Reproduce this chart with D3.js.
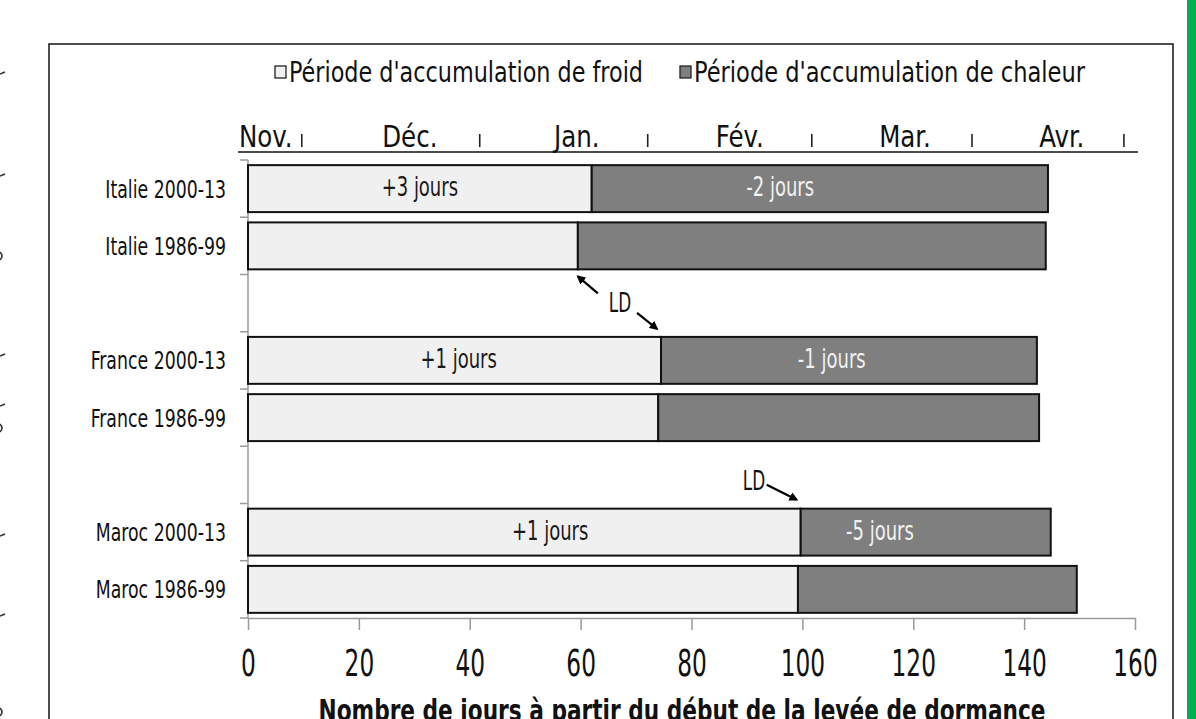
<!DOCTYPE html>
<html>
<head>
<meta charset="utf-8">
<script src="https://cdnjs.cloudflare.com/ajax/libs/d3/7.8.5/d3.min.js"></script>
<style>
	html, body { margin: 0; padding: 0; background: #fff; overflow: hidden; }
	svg text { font-family: 'Liberation Sans Narrow', 'DejaVu Sans Condensed', 'DejaVu Sans', sans-serif; fill: #111; }
	.axis path, .axis line { stroke: #9a9a9a; stroke-width: 1.5; }
	.axis text { font-size: 38px; }
	.cat_labels { font-size: 25px; text-anchor: end; }
	.bar_labels { font-size: 27px; text-anchor: middle; }
</style>
</head>
<body>
<div id="chart"></div>
<script>

// rows of the chart (gap rows are left empty)
var rows = ["Italie 2000-13", "Italie 1986-99", "gap1", "France 2000-13", "France 1986-99", "gap2", "Maroc 2000-13", "Maroc 1986-99"]

var periods = ["Italie 2000-13", "Italie 1986-99", "France 2000-13", "France 1986-99", "Maroc 2000-13", "Maroc 1986-99"]

var series = ["Période d'accumulation de froid", "Période d'accumulation de chaleur"]

// days from start of dormancy release
var coldDays = [62, 59.5, 74.5, 74, 99.7, 99.2]

var totalDays = [144.3, 143.9, 142.3, 142.7, 144.8, 149.5]

var coldLabels = ["+3 jours", "", "+1 jours", "", "+1 jours", ""]

var warmLabels = ["-2 jours", "", "-1 jours", "", "-5 jours", ""]

// where the change labels sit, in days
var coldLabelDay = [31, 0, 38, 0, 54.5, 0]

var warmLabelDay = [96, 0, 105.3, 0, 114, 0]

var dayTicks = [0, 20, 40, 60, 80, 100, 120, 140, 160]

var months = ["Nov.", "Déc.", "Jan.", "Fév.", "Mar.", "Avr."]

var monthLabelDay = [3.2, 29.2, 59.3, 88.7, 118.5, 146.8]

var monthEndDay = [9.7, 41.8, 72.1, 101.7, 130.6, 158]

// LD arrows point at the cold/warm boundary of these periods
var ldTargets = ["Italie 1986-99", "France 2000-13", "Maroc 2000-13"]

var width = 1196

var height = 719

// squeeze a text horizontally, the source font is a condensed one
function condense(sel, ratio) {
	sel.each(function() {
		var w = this.getComputedTextLength()
		if (w > 0) {
			d3.select(this)
				.attr("textLength", w * ratio)
				.attr("lengthAdjust", "spacingAndGlyphs")
		}
	})
}

var svg = d3.select("#chart")
	.append("svg")
	.attr("width", width)
	.attr("height", height)

svg.append("defs").append("marker")
	.attr("id", "head")
	.attr("viewBox", "0 0 10 10")
	.attr("refX", 8)
	.attr("refY", 5)
	.attr("markerWidth", 9)
	.attr("markerHeight", 9)
	.attr("orient", "auto")
	.attr("markerUnits", "userSpaceOnUse")
	.append("path")
	.attr("d", "M0,0 L10,5 L0,10 z")
	.attr("fill", "#000")

// bits of the neighbouring page, cut at the left edge
var edgeY = [74, 176, 256, 356, 406, 428, 536, 616, 712]

svg.selectAll(".edge")
	.data(edgeY)
	.enter()
	.append("path")
	.attr("d", function(d, i) { return i % 3 == 2 ? "M0," + (d - 4) + " q4,4 0,8" : "M0," + d + " l5,-2" })
	.attr("fill", "none")
	.attr("stroke", "#333")
	.attr("stroke-width", 1.6)

// green strip and frame
svg.append("rect")
	.attr("x", 1187)
	.attr("y", 0)
	.attr("width", 9)
	.attr("height", height)
	.attr("fill", "#00b050")

svg.append("rect")
	.attr("x", 49)
	.attr("y", 44)
	.attr("width", 1124)
	.attr("height", 700)
	.attr("fill", "none")
	.attr("stroke", "#222")
	.attr("stroke-width", 1.6)

var xScale = d3.scaleLinear()
	.domain([0, 160])
	.range([248, 1135])

var yScale = d3.scaleBand()
	.domain(rows)
	.range([160, 618])
	.paddingInner(0.18)
	.paddingOuter(0.09)

var step = yScale.step()

// y axis: line with ticks at row boundaries
var g = svg.append("g").attr("class", "axis")

g.append("line")
	.attr("x1", xScale(0))
	.attr("x2", xScale(0))
	.attr("y1", 160)
	.attr("y2", 618)

for (var i = 0; i <= rows.length; i++) {

	g.append("line")
		.attr("x1", xScale(0) - 8)
		.attr("x2", xScale(0))
		.attr("y1", 160 + i * step)
		.attr("y2", 160 + i * step)

}

svg.selectAll(".cat_labels")
	.data(periods)
	.enter()
	.append("text")
	.attr("class", "cat_labels")
	.attr("x", 226)
	.attr("y", function(d) { return yScale(d) + yScale.bandwidth() / 2 + 9 })
	.text(function(d) { return d })
	.call(condense, 0.77)

var xAxis = d3.axisBottom(xScale)
	.tickValues(dayTicks)
	.tickSize(12)
	.tickSizeOuter(0)
	.tickPadding(14)

svg.append("g")
	.attr("class", "axis")
	.attr("transform", "translate(0,618)")
	.call(xAxis)
	.selectAll("text")
	.attr("dy", "0.85em")
	.call(condense, 0.68)

svg.select(".axis path.domain").attr("stroke", "#9a9a9a")

// bars
var bars = svg.append("g")

bars.selectAll(".cold")
	.data(periods)
	.enter()
	.append("rect")
	.attr("x", xScale(0))
	.attr("y", function(d) { return yScale(d) })
	.attr("width", function(d, i) { return xScale(coldDays[i]) - xScale(0) })
	.attr("height", yScale.bandwidth())
	.attr("fill", "#f0f0f0")
	.attr("stroke", "#111")
	.attr("stroke-width", 2)

bars.selectAll(".warm")
	.data(periods)
	.enter()
	.append("rect")
	.attr("x", function(d, i) { return xScale(coldDays[i]) })
	.attr("y", function(d) { return yScale(d) })
	.attr("width", function(d, i) { return xScale(totalDays[i]) - xScale(coldDays[i]) })
	.attr("height", yScale.bandwidth())
	.attr("fill", "#7f7f7f")
	.attr("stroke", "#111")
	.attr("stroke-width", 2)

bars.selectAll(".cold_text")
	.data(periods)
	.enter()
	.append("text")
	.attr("class", "bar_labels")
	.attr("x", function(d, i) { return xScale(coldLabelDay[i]) })
	.attr("y", function(d) { return yScale(d) + 31 })
	.style("fill", "#1a1a1a")
	.text(function(d, i) { return coldLabels[i] })
	.call(condense, 0.74)

bars.selectAll(".warm_text")
	.data(periods)
	.enter()
	.append("text")
	.attr("class", "bar_labels")
	.attr("x", function(d, i) { return xScale(warmLabelDay[i]) })
	.attr("y", function(d) { return yScale(d) + 31 })
	.style("fill", "#f2f2f2")
	.text(function(d, i) { return warmLabels[i] })
	.call(condense, 0.74)

// month axis on top
svg.append("line")
	.attr("x1", 238)
	.attr("x2", 1138)
	.attr("y1", 152)
	.attr("y2", 152)
	.attr("stroke", "#111")
	.attr("stroke-width", 1.6)

svg.selectAll(".month")
	.data(months)
	.enter()
	.append("text")
	.attr("x", function(d, i) { return xScale(monthLabelDay[i]) })
	.attr("y", 147)
	.attr("text-anchor", "middle")
	.style("font-size", "31px")
	.text(function(d) { return d })
	.call(condense, 0.88)

svg.selectAll(".month_end")
	.data(monthEndDay)
	.enter()
	.append("line")
	.attr("x1", function(d) { return xScale(d) })
	.attr("x2", function(d) { return xScale(d) })
	.attr("y1", 134)
	.attr("y2", 147)
	.attr("stroke", "#222")
	.attr("stroke-width", 1.6)

// legend
var legendX = [275, 680]

var legendW = [354, 391]

series.forEach(function(s, i) {

	svg.append("rect")
		.attr("x", legendX[i])
		.attr("y", 66)
		.attr("width", 11)
		.attr("height", 12)
		.attr("fill", i == 0 ? "#f0f0f0" : "#7f7f7f")
		.attr("stroke", "#222")
		.attr("stroke-width", 1.3)

	svg.append("text")
		.attr("x", legendX[i] + 14)
		.attr("y", 82)
		.attr("textLength", legendW[i])
		.attr("lengthAdjust", "spacingAndGlyphs")
		.style("font-size", "28px")
		.text(s)

})

// LD arrows
var ldArrows = [
	{ target: ldTargets[0], dx: 0, dy: 1, tx: 20, ty: 17, side: "bottom" },
	{ target: ldTargets[1], dx: -4, dy: -4, tx: -20, ty: -16, side: "top" },
	{ target: ldTargets[2], dx: -4, dy: -5, tx: -30, ty: -15, side: "top" }
]

ldArrows.forEach(function(a) {

	var idx = periods.indexOf(a.target)

	var hx = xScale(coldDays[idx]) + a.dx

	var hy = (a.side == "bottom" ? yScale(a.target) + yScale.bandwidth() + 6 : yScale(a.target) - 4) + a.dy

	svg.append("line")
		.attr("x1", hx + a.tx)
		.attr("y1", hy + a.ty)
		.attr("x2", hx)
		.attr("y2", hy)
		.attr("stroke", "#000")
		.attr("stroke-width", 2.2)
		.attr("marker-end", "url(#head)")

})

svg.append("text")
	.attr("x", 620)
	.attr("y", 312)
	.attr("text-anchor", "middle")
	.style("font-size", "26px")
	.text("LD")
	.call(condense, 0.72)

svg.append("text")
	.attr("x", 754)
	.attr("y", 490)
	.attr("text-anchor", "middle")
	.style("font-size", "26px")
	.text("LD")
	.call(condense, 0.72)

// axis title
svg.append("text")
	.attr("x", 682)
	.attr("y", 721)
	.attr("text-anchor", "middle")
	.attr("textLength", 727)
	.attr("lengthAdjust", "spacingAndGlyphs")
	.style("font-size", "30px")
	.style("font-weight", "bold")
	.text("Nombre de jours à partir du début de la levée de dormance")

</script>
</body>
</html>
